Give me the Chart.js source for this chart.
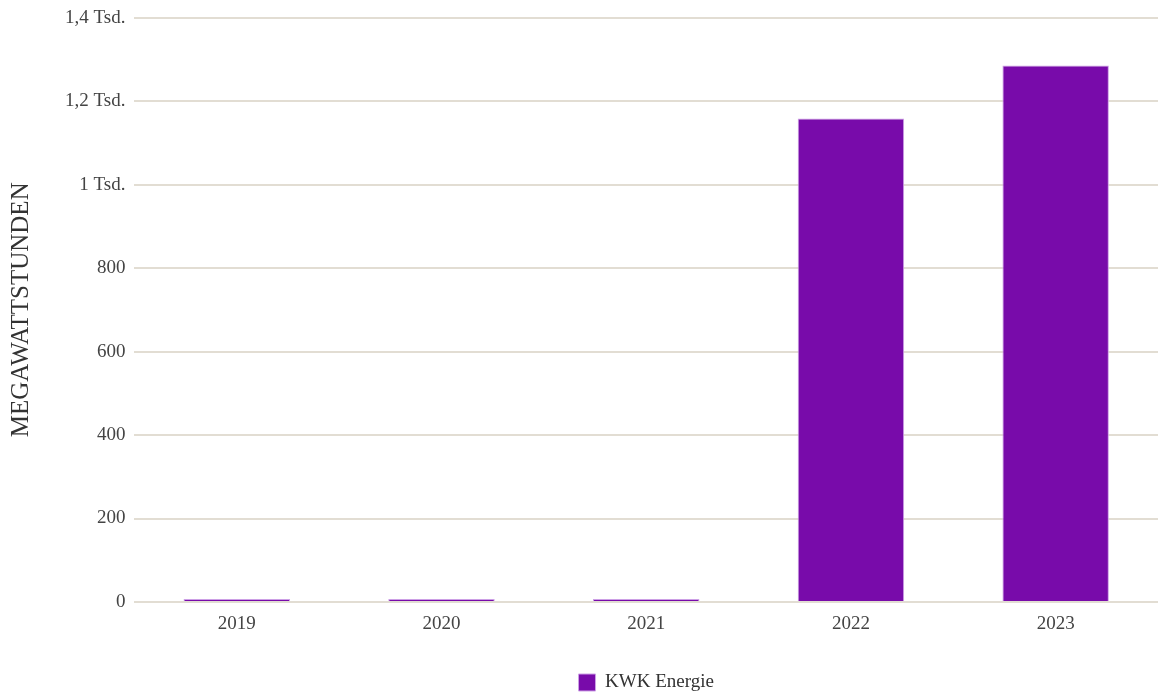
<!DOCTYPE html>
<html><head><meta charset="utf-8">
<script src="https://cdn.jsdelivr.net/npm/chart.js@4"></script>
<style>html,body{margin:0;padding:0;background:#fff}#w{width:1158px;height:694px;position:relative}</style>
</head><body><div id="w"><canvas id="c"></canvas></div>
<script>
const categories = ["2019", "2020", "2021", "2022", "2023"];
const seriesName = "KWK Energie";
const seriesValues = [0, 0, 0, 1158, 1285];
const yTicks = [0, 200, 400, 600, 800, 1000, 1200, 1400];
const yTitle = "MEGAWATTSTUNDEN";

function fmt(v){
  if (v >= 1000) { return (v/1000).toString().replace('.', ',') + ' Tsd.'; }
  return v.toString();
}
const FONT = "'Liberation Serif', 'DejaVu Serif', serif";
new Chart(document.getElementById('c'), {
  type: 'bar',
  data: { labels: categories, datasets: [{
    label: seriesName, data: seriesValues,
    backgroundColor: '#780BAA', borderColor: 'rgba(205,160,230,1)', borderWidth: 1,
    barPercentage: 0.52, categoryPercentage: 1, minBarLength: 3
  }]},
  options: {
    responsive: true, maintainAspectRatio: false, animation: false,
    layout: { padding: { top: 0, right: 0, left: 6, bottom: -8 } },
    plugins: {
      legend: { position: 'bottom', fullSize: false, labels: { boxWidth: 17, boxHeight: 17, padding: 3, color: '#333', font: { family: FONT, size: 19 } } },
      tooltip: { enabled: false }
    },
    scales: {
      x: { grid: { display: false }, border: { display: false },
        afterFit: (s) => { s.height = 68; },
        ticks: { color: '#444', font: { family: FONT, size: 19 }, padding: 3 } },
      y: { min: 0, max: 1400,
        afterBuildTicks: (s) => { s.ticks = yTicks.map(v => ({ value: v })); },
        grid: { color: '#e2ddd3', lineWidth: 2, drawTicks: false }, border: { display: false },
        ticks: { color: '#444', font: { family: FONT, size: 19, lineHeight: 0.9 }, padding: 9, callback: (v) => fmt(v) },
        title: { display: true, text: yTitle, color: '#333', font: { family: FONT, size: 25 }, padding: { top: 0, bottom: 20 } }
      }
    }
  }
});
</script></body></html>
